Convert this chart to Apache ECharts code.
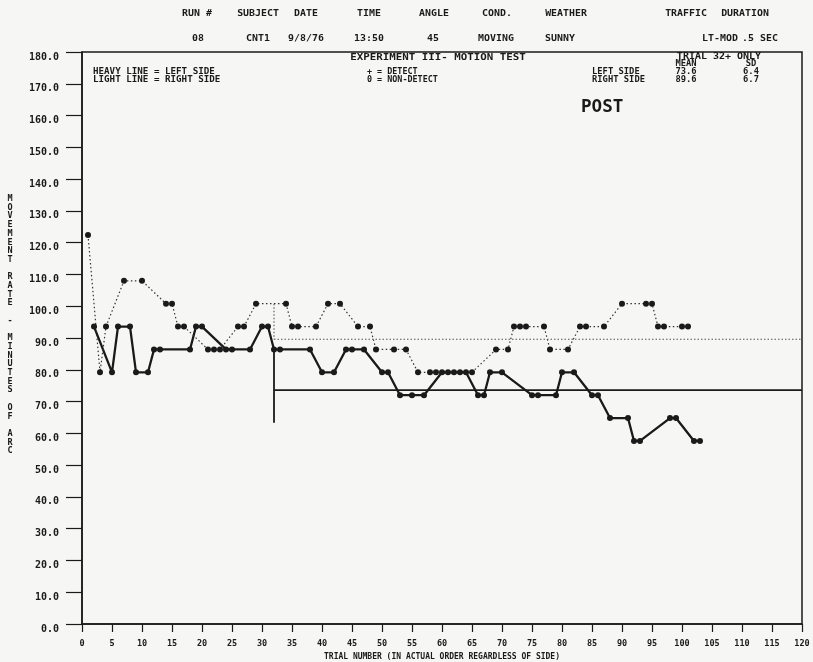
<!DOCTYPE html>
<html><head><meta charset="utf-8">
<script src="https://cdn.jsdelivr.net/npm/echarts@6/dist/echarts.min.js"></script>
<style>html,body{margin:0;padding:0;background:#f6f6f4;} #c{width:813px;height:662px;}</style>
</head><body><div id="c"></div>
<script>
// ---- data ----
const leftTrials  = [2,5,6,8,9,11,12,13,18,19,20,24,25,28,30,31,32,33,38,40,42,44,45,47,50,51,53,55,57,60,61,63,64,66,67,68,70,75,76,79,80,82,85,86,88,91,92,93,98,99,102,103];
const leftValues  = [93.6,79.2,93.6,93.6,79.2,79.2,86.4,86.4,86.4,93.6,93.6,86.4,86.4,86.4,93.6,93.6,86.4,86.4,86.4,79.2,79.2,86.4,86.4,86.4,79.2,79.2,72,72,72,79.2,79.2,79.2,79.2,72,72,79.2,79.2,72,72,72,79.2,79.2,72,72,64.8,64.8,57.6,57.6,64.8,64.8,57.6,57.6];
const rightTrials = [1,3,4,7,10,14,15,16,17,21,22,23,26,27,29,34,35,36,39,41,43,46,48,49,52,54,56,58,59,62,65,69,71,72,73,74,77,78,81,83,84,87,90,94,95,96,97,100,101];
const rightValues = [122.4,79.2,93.6,108,108,100.8,100.8,93.6,93.6,86.4,86.4,86.4,93.6,93.6,100.8,100.8,93.6,93.6,93.6,100.8,100.8,93.6,93.6,86.4,86.4,86.4,79.2,79.2,79.2,79.2,79.2,86.4,86.4,93.6,93.6,93.6,93.6,86.4,86.4,93.6,93.6,93.6,100.8,100.8,100.8,93.6,93.6,93.6,93.6];
const meanFromTrial = 32;
const meanToTrial = 120;
const leftMean = 73.6, leftSD = 6.4;
const rightMean = 89.6, rightSD = 6.7;
const leftMarkerSpan = [86.4, 63.3];
const rightMarkerSpan = [100.8, 89.6];
const xTickLabels = ['0','5','10','15','20','25','30','35','40','45','50','55','60','65','70','75','80','85','90','95','100','105','110','115','120'];
const yTickLabels = ['0.0','10.0','20.0','30.0','40.0','50.0','60.0','70.0','80.0','90.0','100.0','110.0','120.0','130.0','140.0','150.0','160.0','170.0','180.0'];
const headerLabels = ['RUN #','SUBJECT','DATE','TIME','ANGLE','COND.','WEATHER','TRAFFIC','DURATION'];
const headerValues = ['08','CNT1','9/8/76','13:50','45','MOVING','SUNNY','LT-MOD','.5 SEC'];

// ---- chart ----
const FONT = '"DejaVu Sans Mono", monospace';
const INK = '#1a1a1a';
const chart = echarts.init(document.getElementById('c'), null, {renderer:'canvas'});

const zip = (a,b) => a.map((t,i)=>[t,b[i]]);
const hdrX1 = [197,258,306,369,434,497,566,686,745];
const hdrX2 = [198,258,306,369,433,496,560,720,760];
const graphics = [];
const addT = (x,y,s,align,font,sx,sy)=>graphics.push({type:'text',x,y,scaleX:sx||1,scaleY:sy||1,
  style:{text:s,font:font||'bold 8px '+FONT,fill:INK,textAlign:align||'left',textVerticalAlign:'middle'}});
headerLabels.forEach((s,i)=>addT(hdrX1[i],14,s,'center','bold 9px '+FONT,1.1));
headerValues.forEach((s,i)=>addT(hdrX2[i],39,s,'center','bold 9px '+FONT,1.1));
addT(438,58,'EXPERIMENT III- MOTION TEST','center','bold 8px '+FONT,1.35);
addT(93,72,'HEAVY LINE = LEFT SIDE','left','bold 8px '+FONT,1.15);
addT(93,80,'LIGHT LINE = RIGHT SIDE','left','bold 8px '+FONT,1.15);
addT(367,72,'+ = DETECT','left','bold 8px '+FONT,1.05);
addT(367,80,'0 = NON-DETECT','left','bold 8px '+FONT,1.05);
addT(719,57,'TRIAL 32+ ONLY','center','bold 8px '+FONT,1.25);
addT(686,64,'MEAN','center','bold 8px '+FONT,1.1);
addT(751,64,'SD','center','bold 8px '+FONT,1.1);
addT(592,72,'LEFT SIDE','left','bold 8px '+FONT,1.1);
addT(686,72,leftMean.toFixed(1),'center','bold 8px '+FONT,1.1);
addT(751,72,leftSD.toFixed(1),'center','bold 8px '+FONT,1.1);
addT(592,80,'RIGHT SIDE','left','bold 8px '+FONT,1.1);
addT(686,80,rightMean.toFixed(1),'center','bold 8px '+FONT,1.1);
addT(751,80,rightSD.toFixed(1),'center','bold 8px '+FONT,1.1);
addT(581,107,'POST','left','bold 16px '+FONT,1.1,1.1);
graphics.push({type:'text',x:10,y:325,style:{text:'MOVEMENT RATE - MINUTES OF ARC'.split('').join('\n'),font:'bold 8.5px '+FONT,fill:INK,textAlign:'center',textVerticalAlign:'middle',lineHeight:8.7}});

const option = {
  backgroundColor:'#f6f6f4',
  animation:false,
  grid:{left:82,right:11,top:52,bottom:38,containLabel:false,outerBoundsMode:'none',show:true,borderColor:INK,borderWidth:1.5,backgroundColor:'transparent'},
  xAxis:{type:'value',min:0,max:120,interval:5,
    name:'TRIAL NUMBER (IN ACTUAL ORDER REGARDLESS OF SIDE)',nameLocation:'middle',nameGap:29,
    nameTextStyle:{fontFamily:FONT,fontWeight:'bold',fontSize:8,color:INK},
    axisLine:{lineStyle:{color:INK,width:1.5}},
    axisTick:{length:8,lineStyle:{color:INK,width:1.2}},
    axisLabel:{fontFamily:FONT,fontWeight:'bold',fontSize:8.5,color:INK,margin:15,formatter:(v)=>xTickLabels[Math.round(v/5)]},
    splitLine:{show:false}},
  yAxis:{type:'value',min:0,max:180,interval:10,
    axisLine:{show:true,lineStyle:{color:INK,width:1.5}},
    axisTick:{show:true,length:16,lineStyle:{color:INK,width:1.2}},
    axisLabel:{fontFamily:FONT,fontWeight:'bold',fontSize:10,color:INK,margin:23,verticalAlign:'top',formatter:(v)=>yTickLabels[Math.round(v/10)]},
    splitLine:{show:false}},
  graphic:graphics,
  series:[
    {name:'LEFT',type:'line',data:zip(leftTrials,leftValues),symbol:'circle',symbolSize:6,
      lineStyle:{color:INK,width:2.3},itemStyle:{color:INK}},
    {name:'RIGHT',type:'line',data:zip(rightTrials,rightValues),symbol:'circle',symbolSize:6,
      lineStyle:{color:'#333',width:1.2,type:[1.5,2.5]},itemStyle:{color:INK}},
    {name:'LEFT MEAN',type:'line',data:[[meanFromTrial,leftMean],[meanToTrial,leftMean]],symbol:'none',
      lineStyle:{color:INK,width:1.8}},
    {name:'RIGHT MEAN',type:'line',data:[[meanFromTrial,rightMean],[meanToTrial,rightMean]],symbol:'none',
      lineStyle:{color:'#555',width:1.1,type:[1.5,2]}},
    {name:'LEFT MARK',type:'line',data:[[meanFromTrial,leftMarkerSpan[0]],[meanFromTrial,leftMarkerSpan[1]]],symbol:'none',
      lineStyle:{color:INK,width:1.8}},
    {name:'RIGHT MARK',type:'line',data:[[meanFromTrial,rightMarkerSpan[0]],[meanFromTrial,rightMarkerSpan[1]]],symbol:'none',
      lineStyle:{color:'#555',width:1.1,type:[1.5,2]}}
  ]
};
chart.setOption(option);
</script></body></html>
